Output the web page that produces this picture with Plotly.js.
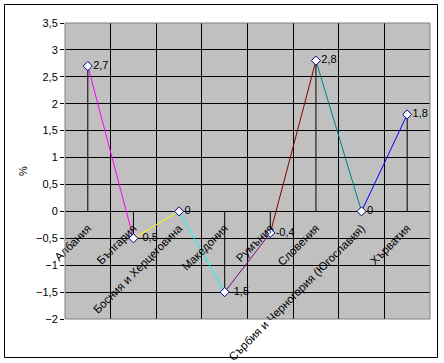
<!DOCTYPE html>
<html>
<head>
<meta charset="utf-8">
<script src="https://cdn.plot.ly/plotly-3.0.1.min.js"></script>
<style>
  html, body { margin: 0; padding: 0; background: #fff; }
  #chart { width: 444px; height: 363px; }
</style>
</head>
<body>
<div id="chart"></div>
<script>
const categories = ['Албания', 'България', 'Босния и Херцеговина', 'Македония', 'Румъния', 'Словения', 'Сърбия и Черногория (Югославия)', 'Хърватия'];
const values = [2.7, -0.5, 0, -1.5, -0.4, 2.8, 0, 1.8];
const segmentColors = ['#FF00FF', '#FFFF00', '#00FFFF', '#800080', '#800000', '#008080', '#0000FF'];
const yTitle = '%';

const W = 444, H = 363;
const M = { l: 65, r: 14, t: 23, b: 44 };
const plotW = W - M.l - M.r, plotH = H - M.t - M.b;
const yRange = [-2, 3.5];
const FONT = 'Liberation Sans, Arial, sans-serif';

const traces = [];

// drop lines from each point to the zero line
const dx = [], dy = [];
categories.forEach((c, i) => { dx.push(c, c, null); dy.push(values[i], 0, null); });
traces.push({
  x: dx, y: dy, mode: 'lines', type: 'scatter',
  line: { color: '#000000', width: 1 }, hoverinfo: 'skip', showlegend: false
});

// coloured segments between consecutive points
for (let i = 0; i < categories.length - 1; i++) {
  traces.push({
    x: [categories[i], categories[i + 1]],
    y: [values[i], values[i + 1]],
    mode: 'lines', type: 'scatter',
    line: { color: segmentColors[i], width: 1 },
    showlegend: false, hoverinfo: 'skip'
  });
}

// markers with data labels
traces.push({
  x: categories, y: values, mode: 'markers+text', type: 'scatter',
  text: values.map(v => String(v).replace('.', ',')),
  textposition: 'middle right',
  textfont: { family: FONT, size: 11, color: '#000000' },
  marker: { symbol: 'diamond', size: 7, color: '#FFFFFF', line: { color: '#000080', width: 1 } },
  cliponaxis: false, showlegend: false
});

function px2paperX(px) { return (px - M.l) / plotW; }
function px2paperY(py) { return 1 - (py - M.t) / plotH; }

const layout = {
  width: W, height: H,
  margin: M,
  paper_bgcolor: '#FFFFFF',
  plot_bgcolor: '#C0C0C0',
  separators: ', ',
  font: { family: FONT, size: 11, color: '#000000' },
  showlegend: false,
  xaxis: {
    type: 'category',
    categoryorder: 'array', categoryarray: categories,
    anchor: 'free',
    position: (0 - yRange[0]) / (yRange[1] - yRange[0]),
    tickangle: -45,
    tickson: 'boundaries',
    ticks: '',
    ticklabelstandoff: 7,
    showgrid: true, gridcolor: '#000000', gridwidth: 1,
    showline: false, zeroline: false,
    tickfont: { family: FONT, size: 11.5, color: '#000000' },
    automargin: false,
    range: [-0.5, categories.length - 0.5]
  },
  yaxis: {
    range: yRange, dtick: 0.5, tick0: 0,
    showgrid: true, gridcolor: '#000000', gridwidth: 1,
    zeroline: true, zerolinecolor: '#000000', zerolinewidth: 1,
    ticks: 'outside', ticklen: 4, tickcolor: '#000000', tickwidth: 1,
    tickfont: { family: FONT, size: 11, color: '#000000' },
    showline: false,
    automargin: false,
    title: { text: yTitle, font: { family: FONT, size: 11, color: '#000000' }, standoff: 6 }
  },
  shapes: [
    { type: 'rect', xref: 'paper', yref: 'paper', x0: 0, x1: 1, y0: 0, y1: 1,
      line: { color: '#808080', width: 1 }, layer: 'above' },
    { type: 'rect', xref: 'paper', yref: 'paper',
      x0: px2paperX(4.5), x1: px2paperX(437.5), y0: px2paperY(357.5), y1: px2paperY(4.5),
      line: { color: '#000000', width: 1 }, layer: 'above' }
  ]
};

Plotly.newPlot('chart', traces, layout, { staticPlot: true, displayModeBar: false });
</script>
</body>
</html>
